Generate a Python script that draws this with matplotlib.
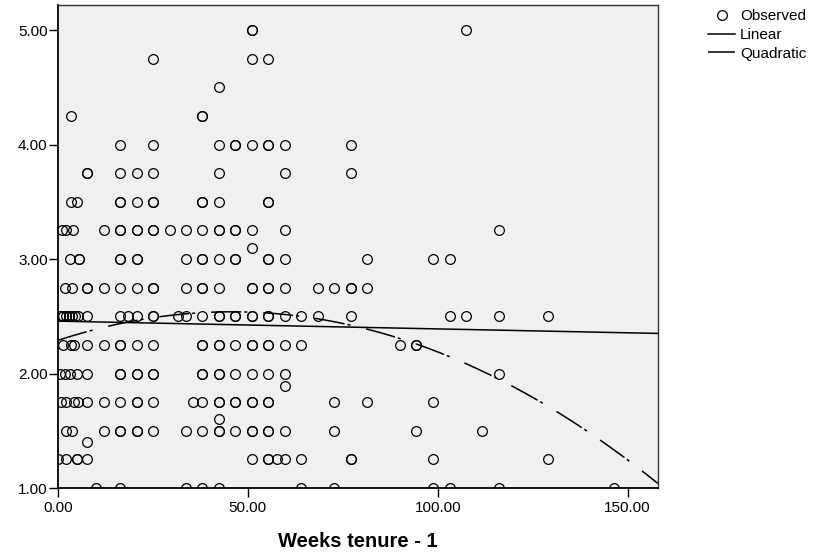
import numpy as np
import matplotlib
matplotlib.use("Agg")
import matplotlib.pyplot as plt
from matplotlib.lines import Line2D

plt.rcParams['font.family'] = ['Liberation Sans', 'DejaVu Sans']

# observed points, one list of x (weeks tenure - 1) per y level
rows = {
    5.00: [51.1, 51.1, 107.4],
    4.75: [25.1, 51.1, 55.4],
    4.50: [42.4],
    4.25: [3.3, 38.0, 38.0],
    4.00: [16.4, 25.1, 42.4, 46.7, 46.7, 51.1, 55.4, 55.4, 59.7, 77.1],
    3.75: [7.7, 7.7, 16.4, 20.7, 25.1, 42.4, 59.7, 77.1],
    3.50: [3.3, 5.1, 16.4, 16.4, 20.7, 25.1, 25.1, 38.0, 38.0, 42.4, 55.4, 55.4],
    3.25: [1.0, 2.0, 4.0, 12.1, 16.4, 16.4, 20.7, 20.7, 25.1, 25.1, 29.4, 33.7,
           38.0, 42.4, 42.4, 46.7, 46.7, 51.1, 59.7, 116.0],
    3.10: [51.1],
    3.00: [3.2, 5.4, 5.4, 16.4, 16.4, 20.7, 20.7, 33.7, 38.0, 38.0, 42.4, 46.7,
           46.7, 55.4, 55.4, 59.7, 81.4, 98.7, 103.1],
    2.75: [1.8, 3.6, 7.7, 7.7, 12.1, 16.4, 20.7, 25.1, 25.1, 33.7, 38.0, 38.0,
           42.4, 51.1, 51.1, 55.4, 55.4, 59.7, 68.4, 72.7, 77.1, 77.1, 81.4],
    2.50: [0.5, 1.3, 2.1, 2.9, 3.6, 4.4, 5.3, 7.6, 16.4, 18.5, 20.7, 25.1, 25.1,
           31.6, 33.7, 38.0, 42.4, 42.4, 46.7, 46.7, 51.1, 51.1, 55.4, 55.4,
           59.7, 64.0, 68.4, 77.1, 103.1, 107.4, 116.0, 129.0],
    2.25: [1.2, 3.3, 4.2, 7.7, 12.1, 16.4, 16.4, 20.7, 25.1, 38.0, 38.0, 42.4,
           42.4, 46.7, 51.1, 51.1, 55.4, 55.4, 59.7, 64.0, 90.0, 94.4, 94.4],
    2.00: [0.5, 1.8, 3.2, 4.9, 7.7, 16.4, 16.4, 20.7, 20.7, 25.1, 25.1, 38.0,
           38.0, 42.4, 42.4, 46.7, 51.1, 55.4, 59.7, 116.0],
    1.89: [59.7],
    1.75: [0.9, 2.0, 4.3, 5.3, 7.7, 12.1, 16.4, 20.7, 20.7, 25.1, 35.5, 38.0,
           42.4, 42.4, 46.7, 46.7, 51.1, 51.1, 55.4, 55.4, 72.7, 81.4, 98.7],
    1.60: [42.4],
    1.50: [2.1, 3.6, 12.1, 16.4, 16.4, 20.7, 20.7, 25.1, 33.7, 38.0, 42.4, 42.4,
           46.7, 51.1, 51.1, 55.4, 55.4, 59.7, 72.7, 94.4, 111.7],
    1.40: [7.7],
    1.25: [0.0, 2.2, 5.0, 5.0, 7.7, 51.1, 55.4, 55.4, 57.6, 59.7, 64.0, 77.1,
           77.1, 98.7, 129.0],
    1.00: [9.9, 16.4, 33.7, 38.0, 42.4, 64.0, 72.7, 98.7, 103.1, 116.0, 146.4],
}

weeks = np.array([x for y, xs in rows.items() for x in xs])
score = np.array([y for y, xs in rows.items() for x in xs])

x_ticks = [0, 50, 100, 150]
y_ticks = [1, 2, 3, 4, 5]

# curve-fit coefficients (highest power first)
linear_coef = [-0.00068, 2.458]
quadratic_coef = [-0.0001191, 0.0109, 2.29]
x_fit = np.linspace(0, 158, 300)

fig = plt.figure(figsize=(8.28, 5.53), dpi=100)
ax = fig.add_axes([58 / 828, 1 - 488 / 553, 600 / 828, 483 / 553])
ax.set_facecolor('#f0f0f0')

ax.plot(weeks, score, linestyle='none', marker='o', mfc='none', mec='black',
        ms=7, mew=0.9, zorder=3)
ax.plot(x_fit, np.polyval(linear_coef, x_fit), color='black', lw=1.1, zorder=4)
ax.plot(x_fit, np.polyval(quadratic_coef, x_fit), color='black', lw=1.1,
        dashes=(19.6, 2, 2, 10.5), zorder=4)

ax.set_xlim(0, 158)
ax.set_ylim(1, 5.22)
ax.set_xticks(x_ticks)
ax.set_yticks(y_ticks)
ax.set_xticklabels([f"{v:.2f}" for v in x_ticks])
ax.set_yticklabels([f"{v:.2f}" for v in y_ticks])
ax.tick_params(direction='out', length=6.5, width=1.0, labelsize=11,
               colors='black', pad=1)
ax.tick_params(axis='x', pad=3)

for s in ['left', 'bottom']:
    ax.spines[s].set_linewidth(1.3)
    ax.spines[s].set_color('black')
for s in ['top', 'right']:
    ax.spines[s].set_linewidth(1.0)
    ax.spines[s].set_color('#333333')

ax.set_xlabel("Weeks tenure - 1", fontsize=14.5, fontweight='bold', labelpad=12)

handles = [
    Line2D([], [], linestyle='none', marker='o', mfc='none', mec='black',
           ms=7, mew=0.9),
    Line2D([], [], color='black', lw=1.1),
    Line2D([], [], color='black', lw=1.1, dashes=(19.6, 2, 2, 10.5)),
]
fig.legend(handles, ["Observed", "Linear", "Quadratic"], loc='upper left',
           bbox_to_anchor=(708 / 828, 1 - 9 / 553), frameon=False,
           fontsize=11, handlelength=1.8, handletextpad=0.3,
           labelspacing=0.32, borderpad=0, borderaxespad=0)

fig.savefig("out.png", dpi=100)
